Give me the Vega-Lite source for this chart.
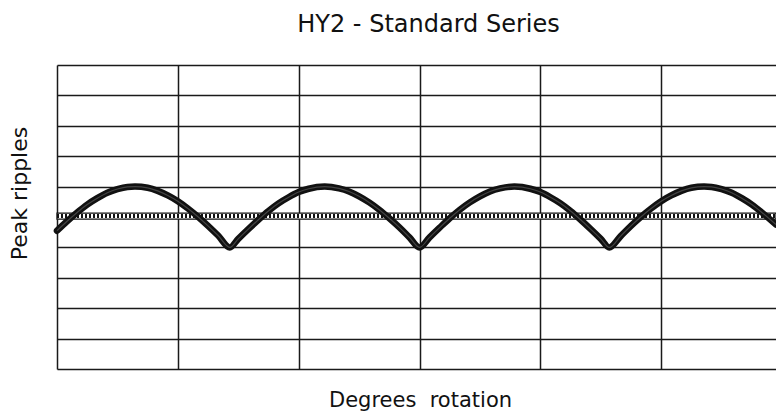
{
  "$schema": "https://vega.github.io/schema/vega-lite/v6.json",
  "width": 719,
  "height": 304,
  "autosize": {"type": "none"},
  "padding": {"left": 57, "top": 65, "right": 0, "bottom": 47},
  "background": "white",
  "title": {"text": "HY2 - Standard Series", "fontSize": 24, "font": "DejaVu Sans", "fontWeight": "normal", "color": "#111", "offset": 28, "dx": 12},
  "config": {
    "view": {"stroke": null},
    "axis": {"labels": false, "ticks": false, "domain": false, "grid": true, "gridColor": "#1a1a1a", "gridWidth": 1.5, "gridOpacity": 1,
      "titleFont": "DejaVu Sans", "titleFontSize": 22, "titleFontWeight": "normal", "titleColor": "#111"},
    "axisX": {"titleFontSize": 21}
  },
  "datasets": {
    "curve": [
      {"deg": 0, "ripple": 4.55}, {"deg": 5, "ripple": 4.86}, {"deg": 10, "ripple": 5.15}, {"deg": 15, "ripple": 5.41},
      {"deg": 20, "ripple": 5.62}, {"deg": 25, "ripple": 5.8}, {"deg": 30, "ripple": 5.92}, {"deg": 35, "ripple": 5.99},
      {"deg": 38.7, "ripple": 6.0}, {"deg": 45, "ripple": 5.96}, {"deg": 50, "ripple": 5.86}, {"deg": 55, "ripple": 5.71},
      {"deg": 60, "ripple": 5.52}, {"deg": 65, "ripple": 5.28}, {"deg": 70, "ripple": 5.01}, {"deg": 75, "ripple": 4.71},
      {"deg": 80, "ripple": 4.39}, {"deg": 85.8, "ripple": 4.0}, {"deg": 90, "ripple": 4.28}, {"deg": 95, "ripple": 4.6},
      {"deg": 100, "ripple": 4.91}, {"deg": 105, "ripple": 5.2}, {"deg": 110, "ripple": 5.45}, {"deg": 115, "ripple": 5.65},
      {"deg": 120, "ripple": 5.82}, {"deg": 125, "ripple": 5.93}, {"deg": 132.9, "ripple": 6.0}, {"deg": 140, "ripple": 5.94},
      {"deg": 145, "ripple": 5.84}, {"deg": 150, "ripple": 5.68}, {"deg": 155, "ripple": 5.48}, {"deg": 160, "ripple": 5.24},
      {"deg": 165, "ripple": 4.96}, {"deg": 170, "ripple": 4.66}, {"deg": 175, "ripple": 4.33}, {"deg": 180, "ripple": 4.0},
      {"deg": 185, "ripple": 4.33}, {"deg": 190, "ripple": 4.65}, {"deg": 195, "ripple": 4.96}, {"deg": 200, "ripple": 5.24},
      {"deg": 205, "ripple": 5.48}, {"deg": 210, "ripple": 5.68}, {"deg": 215, "ripple": 5.84}, {"deg": 220, "ripple": 5.94},
      {"deg": 227.1, "ripple": 6.0}, {"deg": 235, "ripple": 5.93}, {"deg": 240, "ripple": 5.82}, {"deg": 245, "ripple": 5.65},
      {"deg": 250, "ripple": 5.45}, {"deg": 255, "ripple": 5.2}, {"deg": 260, "ripple": 4.91}, {"deg": 265, "ripple": 4.6},
      {"deg": 270, "ripple": 4.28}, {"deg": 274.2, "ripple": 4.0}, {"deg": 280, "ripple": 4.38}, {"deg": 285, "ripple": 4.71},
      {"deg": 290, "ripple": 5.01}, {"deg": 295, "ripple": 5.28}, {"deg": 300, "ripple": 5.52}, {"deg": 305, "ripple": 5.71},
      {"deg": 310, "ripple": 5.86}, {"deg": 315, "ripple": 5.96}, {"deg": 321.3, "ripple": 6.0}, {"deg": 325, "ripple": 5.99},
      {"deg": 330, "ripple": 5.92}, {"deg": 335, "ripple": 5.8}, {"deg": 340, "ripple": 5.62}, {"deg": 345, "ripple": 5.41},
      {"deg": 350, "ripple": 5.15}, {"deg": 357, "ripple": 4.75}
    ],
    "band": [{"x1": 0, "x2": 357, "lo": 4.93, "hi": 5.13, "mid": 5.03}]
  },
  "layer": [
    {
      "data": {"name": "band"},
      "mark": {"type": "rect", "fill": "white", "stroke": "#111", "strokeWidth": 1.2},
      "encoding": {
        "x": {"field": "x1", "type": "quantitative", "scale": {"domain": [0, 357], "nice": false}, "axis": {"values": [0, 60, 120, 180, 240, 300], "title": "Degrees\u00a0 rotation", "titlePadding": 20, "titleX": 363}},
        "x2": {"field": "x2"},
        "y": {"field": "lo", "type": "quantitative", "scale": {"domain": [0, 10], "nice": false}, "axis": {"values": [0, 1, 2, 3, 4, 5, 6, 7, 8, 9, 10], "title": "Peak ripples", "titlePadding": 26, "titleY": 128}},
        "y2": {"field": "hi"}
      }
    },
    {
      "data": {"name": "band"},
      "mark": {"type": "rule", "stroke": "#111", "strokeWidth": 4, "strokeDash": [2, 2]},
      "encoding": {
        "x": {"field": "x1", "type": "quantitative", "axis": {"values": [0, 60, 120, 180, 240, 300], "title": "Degrees\u00a0 rotation", "titlePadding": 20, "titleX": 363}},
        "x2": {"field": "x2"},
        "y": {"field": "mid", "type": "quantitative", "axis": {"values": [0, 1, 2, 3, 4, 5, 6, 7, 8, 9, 10], "title": "Peak ripples", "titlePadding": 26, "titleY": 128}}
      }
    },
    {
      "data": {"name": "curve"},
      "mark": {"type": "line", "stroke": "#111", "strokeWidth": 6.5, "interpolate": "monotone", "strokeCap": "round", "strokeJoin": "round"},
      "encoding": {
        "x": {"field": "deg", "type": "quantitative", "axis": {"values": [0, 60, 120, 180, 240, 300], "title": "Degrees\u00a0 rotation", "titlePadding": 20, "titleX": 363}},
        "y": {"field": "ripple", "type": "quantitative", "axis": {"values": [0, 1, 2, 3, 4, 5, 6, 7, 8, 9, 10], "title": "Peak ripples", "titlePadding": 26, "titleY": 128}}
      }
    },
    {
      "data": {"name": "curve"},
      "mark": {"type": "line", "stroke": "#444", "strokeWidth": 1.2, "interpolate": "monotone"},
      "encoding": {
        "x": {"field": "deg", "type": "quantitative", "axis": {"values": [0, 60, 120, 180, 240, 300], "title": "Degrees\u00a0 rotation", "titlePadding": 20, "titleX": 363}},
        "y": {"field": "ripple", "type": "quantitative", "axis": {"values": [0, 1, 2, 3, 4, 5, 6, 7, 8, 9, 10], "title": "Peak ripples", "titlePadding": 26, "titleY": 128}}
      }
    }
  ]
}
